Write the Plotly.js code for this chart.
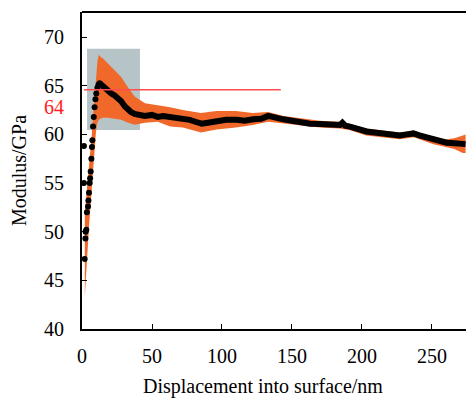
<!DOCTYPE html>
<html>
<head>
<meta charset="utf-8">
<script src="https://cdn.plot.ly/plotly-3.0.1.min.js"></script>
<style>html,body{margin:0;padding:0;background:#fff;}#chart{width:466px;height:398px;}</style>
</head>
<body>
<div id="chart"></div>
<script>
// Mean modulus curve (plateau region)
const curveX = [12.6, 15, 18.6, 21, 23.3, 25.5, 28, 30.5, 32.9, 35, 37.6, 41, 44.8, 50, 54, 58, 62.9, 67, 72.4, 77, 81, 85.5, 90, 96.2, 103, 110.5, 116, 122.4, 128, 133, 138, 143.8, 150, 155.7, 162.9, 170, 176, 181, 184.3, 186, 188, 191.4, 197, 203.3, 209, 215.2, 221, 227, 232, 236.7, 241, 246, 251, 256, 260.5, 266, 272.4, 274];
const curveY = [65.25, 64.9, 64.4, 64.2, 64.0, 63.8, 63.4, 62.9, 62.5, 62.3, 62.1, 62.0, 61.9, 62.0, 61.8, 61.9, 61.8, 61.7, 61.65, 61.5, 61.3, 61.1, 61.2, 61.4, 61.5, 61.5, 61.4, 61.55, 61.6, 61.9, 61.7, 61.55, 61.4, 61.2, 61.1, 61.07, 61.0, 61.0, 60.97, 61.2, 60.9, 60.8, 60.5, 60.3, 60.2, 60.1, 60.1, 59.9, 60.0, 60.1, 59.9, 59.7, 59.4, 59.3, 59.15, 59.1, 59.0, 59.0];
// Rising part (individual points)
const riseX = [1.9, 2.4, 2.6, 3.1, 3.5, 4.3, 4.6, 5.0, 5.5, 5.8, 6.2, 6.7, 7.1, 7.4, 7.9, 8.4, 9.0, 9.6, 10.2, 11.0, 11.8, 12.6];
const riseY = [47.2, 49.3, 50.0, 50.2, 52.0, 52.6, 53.2, 54.0, 55.0, 55.5, 56.2, 57.5, 58.7, 59.4, 60.8, 61.8, 62.8, 63.6, 64.2, 64.8, 65.1, 65.25];
const outlierX = [1.4, 1.4];
const outlierY = [58.8, 55.0];
// Scatter band (standard deviation)
const bandX = [2, 3, 4, 5, 6, 7, 8, 9, 10, 11, 12, 13, 15, 18.6, 23, 28, 33, 37.6, 45, 54, 63, 72, 85, 96, 110, 122, 133, 144, 156, 163, 170, 184, 191, 203, 215, 227, 237, 251, 260, 266, 272, 274];
const bandUpper = [52, 53.5, 55, 56.5, 58, 60, 62, 64, 66, 67.5, 68.2, 68.0, 67.8, 67.3, 66.6, 65.9, 64.8, 63.9, 63.2, 63.0, 62.8, 62.5, 62.2, 62.4, 62.4, 62.2, 62.3, 61.9, 61.7, 61.55, 61.4, 61.3, 61.1, 60.6, 60.4, 60.2, 60.4, 59.7, 59.5, 59.6, 59.9, 60.0];
const bandLower = [43.3, 46, 48.5, 50.5, 52.5, 54.5, 56.5, 58.5, 60.3, 61.2, 61.5, 61.6, 61.7, 61.7, 61.6, 61.5, 61.2, 61.0, 61.2, 61.3, 60.8, 60.7, 60.2, 60.5, 60.7, 60.96, 61.3, 61.1, 60.9, 60.8, 60.7, 60.6, 60.45, 59.9, 59.7, 59.5, 59.7, 59.0, 58.7, 58.5, 58.1, 58.1];
// Annotations
const boxX = [3.6, 41.4];
const boxY = [60.45, 68.8];
const refLineX = [1.4, 142];
const refLineY = 64.6;
const refLabel = "64";
const xTicks = [0, 50, 100, 150, 200, 250];
const yTicks = [40, 45, 50, 55, 60, 65, 70];
const xTitle = 'Displacement into surface/nm';
const yTitle = 'Modulus/GPa';

const orange = '#f0692a';
const traces = [
  {x: bandX, y: bandLower, mode: 'lines', line: {width: 0, color: orange}, hoverinfo: 'skip', showlegend: false},
  {x: bandX, y: bandUpper, mode: 'lines', line: {width: 0, color: orange}, fill: 'tonexty', fillcolor: orange, showlegend: false},
  {x: curveX, y: curveY, mode: 'lines', line: {width: 6, color: '#000'}, showlegend: false},
  {x: riseX, y: riseY, mode: 'markers', marker: {size: 6, color: '#000'}, showlegend: false},
  {x: outlierX, y: outlierY, mode: 'markers', marker: {size: 6, color: '#000'}, showlegend: false}
];
const font = {family: '"Liberation Serif", "Times New Roman", serif', size: 20, color: '#000'};
const layout = {
  width: 466, height: 398,
  margin: {l: 82, r: 0, t: 12, b: 69},
  paper_bgcolor: '#fff', plot_bgcolor: '#fff',
  font: font,
  showlegend: false,
  xaxis: {
    range: [0, 274.3], tickvals: xTicks, ticks: 'inside', ticklen: 5, tickcolor: '#000',
    showline: true, linecolor: '#000', linewidth: 2, mirror: false, showgrid: false, zeroline: false,
    tickfont: font, ticklabelstandoff: 8
  },
  yaxis: {
    range: [40, 72.58], tickvals: yTicks, ticks: 'inside', ticklen: 5, tickcolor: '#000',
    showline: true, linecolor: '#000', linewidth: 2, showgrid: false, zeroline: false,
    tickfont: font, ticklabelstandoff: 12,
    title: {text: yTitle, font: font, standoff: 12}
  },
  shapes: [
    {type: 'rect', xref: 'x', yref: 'y', x0: boxX[0], x1: boxX[1], y0: boxY[0], y1: boxY[1], fillcolor: '#b6c4c7', line: {width: 0}, layer: 'below'},
    {type: 'line', xref: 'x', yref: 'y', x0: refLineX[0], x1: refLineX[1], y0: refLineY, y1: refLineY, line: {color: '#ff4d4d', width: 1.5}},
    {type: 'line', xref: 'paper', yref: 'paper', x0: 0, x1: 1, y0: 1, y1: 1, line: {color: '#000', width: 2}}
  ],
  annotations: [
    {xref: 'paper', yref: 'y', x: 0, y: 62.85, xanchor: 'right', yanchor: 'middle', xshift: -16, text: refLabel, showarrow: false, font: {family: font.family, size: 20, color: '#ff2020'}},
    {xref: 'paper', yref: 'paper', x: 0.471, y: 0, xanchor: 'center', yanchor: 'top', yshift: -44, text: xTitle, showarrow: false, font: font}
  ]
};
Plotly.newPlot('chart', traces, layout, {displayModeBar: false, staticPlot: true});
</script>
</body>
</html>
